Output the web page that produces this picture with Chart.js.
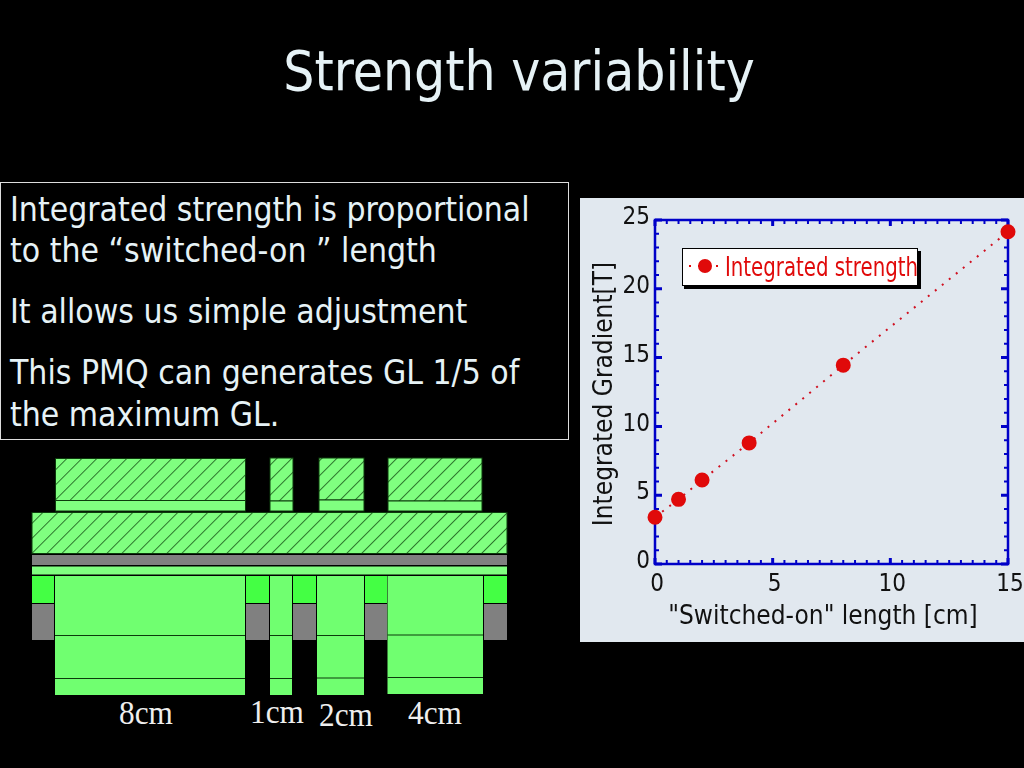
<!DOCTYPE html>
<html>
<head>
<meta charset="utf-8">
<title>Strength variability</title>
<script src="https://cdn.jsdelivr.net/npm/chart.js@4"></script>
<style>
html, body { margin: 0; padding: 0; background: #000; }
body { position: relative; width: 1024px; height: 768px; overflow: hidden; font-family: "DejaVu Sans Condensed", "DejaVu Sans", sans-serif; font-stretch: condensed; }
#title { position: absolute; left: 0; width: 1038px; top: 34px; text-align: center; font-size: 54.6px; line-height: 74px; color: #e6f2f6; }
#box { position: absolute; left: 0; top: 182px; width: 567px; height: 256px; border: 1px solid #ddd; }
.line { position: absolute; left: 9px; font-size: 33.4px; line-height: 42px; color: #e6f2f6; white-space: nowrap; }
#panel { position: absolute; left: 580px; top: 198px; width: 444px; height: 444px; background: #e1e8ef; }
#diagram { position: absolute; left: 0; top: 450px; }
.size { position: absolute; font-family: "Liberation Serif", serif; font-size: 34px; color: #eee; line-height: 34px; transform: scaleX(0.92); transform-origin: left; }
</style>
</head>
<body>
<div id="title">Strength variability</div>
<div id="box">
  <div class="line" style="top:6px">Integrated strength is proportional</div>
  <div class="line" style="top:47px">to the “switched-on ” length</div>
  <div class="line" style="top:108px">It allows us simple adjustment</div>
  <div class="line" style="top:169px">This PMQ can generates GL 1/5 of</div>
  <div class="line" style="top:211px">the maximum GL.</div>
</div>

<svg id="diagram" width="520" height="250" viewBox="0 450 520 250">
  <defs>
    <pattern id="hatch" width="10.6" height="10.6" patternUnits="userSpaceOnUse" patternTransform="rotate(-45)">
      <rect width="10.6" height="10.6" fill="#80ff80"/>
      <line x1="0" y1="0" x2="10.6" y2="0" stroke="#0a400a" stroke-width="1.4"/>
    </pattern>
  </defs>
  <g stroke="#0c3a0c" stroke-width="1">
    <rect x="55.5" y="458.5" width="190" height="42" fill="url(#hatch)"/>
    <rect x="270" y="458" width="23" height="43" fill="url(#hatch)"/>
    <rect x="319" y="458" width="45" height="42" fill="url(#hatch)"/>
    <rect x="388" y="458" width="94" height="43" fill="url(#hatch)"/>
    <rect x="55.5" y="500.5" width="190" height="10.5" fill="#80ff80"/>
    <rect x="270" y="501" width="23" height="10" fill="#80ff80"/>
    <rect x="319" y="500" width="45" height="11" fill="#80ff80"/>
    <rect x="388" y="501" width="94" height="10" fill="#80ff80"/>
    <rect x="32" y="512.5" width="475" height="41" fill="url(#hatch)"/>
  </g>
  <rect x="32" y="555" width="475" height="10" fill="#808080"/>
  <rect x="32" y="566.5" width="475" height="8" fill="#80ff80"/>
  <g fill="#808080">
    <rect x="32" y="604" width="22" height="36"/>
    <rect x="246" y="604" width="23" height="36"/>
    <rect x="293" y="604" width="23" height="36"/>
    <rect x="365" y="604" width="22" height="36"/>
    <rect x="484" y="604" width="23" height="36"/>
  </g>
  <g fill="#44ff44">
    <rect x="32" y="576" width="22" height="27"/>
    <rect x="246" y="576" width="23" height="27"/>
    <rect x="293" y="576" width="23" height="27"/>
    <rect x="365" y="576" width="22" height="27"/>
    <rect x="484" y="576" width="23" height="27"/>
  </g>
  <g fill="#70ff70">
    <rect x="55" y="576" width="190" height="119"/>
    <rect x="270" y="576" width="22" height="119"/>
    <rect x="317" y="576" width="47" height="119"/>
    <rect x="387.5" y="576" width="95.5" height="118"/>
  </g>
  <g stroke="#0c3a0c" stroke-width="1">
    <line x1="55" y1="635.5" x2="245" y2="635.5"/>
    <line x1="270" y1="635.5" x2="292" y2="635.5"/>
    <line x1="317" y1="635.5" x2="364" y2="635.5"/>
    <line x1="387.5" y1="635" x2="483" y2="635"/>
    <line x1="55" y1="678.5" x2="245" y2="678.5"/>
    <line x1="270" y1="678.5" x2="292" y2="678.5"/>
    <line x1="317" y1="678" x2="364" y2="678"/>
    <line x1="387.5" y1="677.5" x2="483" y2="677.5"/>
  </g>
</svg>
<div class="size" style="left:119px;top:696px">8cm</div>
<div class="size" style="left:250px;top:695px">1cm</div>
<div class="size" style="left:319px;top:698px">2cm</div>
<div class="size" style="left:408px;top:696px">4cm</div>

<div id="panel"><canvas id="strengthChart" width="444" height="444"></canvas></div>

<script>
// values
const lengths = [0, 1, 2, 4, 8, 15];
const gradients = [3.4, 4.7, 6.1, 8.8, 14.45, 24.15];
const xLabels = [0, 5, 10, 15];
const yLabels = [0, 5, 10, 15, 20, 25];
const xMinorStep = 0.5;
const yMinorStep = 1;
const seriesName = 'Integrated strength';
const xTitle = '"Switched-on" length [cm]';
const yTitle = 'Integrated Gradient[T]';

const fontName = '"DejaVu Sans Condensed", "DejaVu Sans", sans-serif';
const red = '#e00a0a';
const blue = '#0000c8';

// frame with inward ticks on all four sides, plus the axis titles
const framePlugin = {
    id: 'frame',
    beforeDatasetsDraw(chart) {
        const { ctx, chartArea: a, scales: { x, y } } = chart;
        ctx.save();
        ctx.strokeStyle = blue;
        ctx.lineWidth = 2.5;
        ctx.strokeRect(a.left, a.top, a.right - a.left, a.bottom - a.top);

        for (let v = 0; v <= 15; v += xMinorStep) {
            const major = xLabels.includes(v);
            const px = x.getPixelForValue(v);
            const len = major ? 6 : 4;
            ctx.lineWidth = major ? 3 : 2;
            ctx.beginPath();
            ctx.moveTo(px, a.bottom); ctx.lineTo(px, a.bottom - len);
            ctx.moveTo(px, a.top); ctx.lineTo(px, a.top + len);
            ctx.stroke();
        }
        for (let v = 0; v <= 25; v += yMinorStep) {
            const major = yLabels.includes(v);
            const py = y.getPixelForValue(v);
            const len = major ? 7 : 4;
            ctx.lineWidth = major ? 3 : 2;
            ctx.beginPath();
            ctx.moveTo(a.left, py); ctx.lineTo(a.left + len, py);
            ctx.moveTo(a.right, py); ctx.lineTo(a.right - len, py);
            ctx.stroke();
        }

        ctx.fillStyle = '#111';
        ctx.font = '26px ' + fontName;
        ctx.textAlign = 'center';
        ctx.textBaseline = 'middle';
        ctx.fillText(xTitle, 243, 419);
        ctx.translate(25, 196);
        ctx.rotate(-Math.PI / 2);
        ctx.fillText(yTitle, 0, 0);
        ctx.restore();
    },
    afterDatasetsDraw(chart) {
        // legend box with a hard black shadow
        const { ctx } = chart;
        ctx.save();
        ctx.fillStyle = '#000';
        ctx.fillRect(104, 53, 237, 38);
        ctx.fillStyle = '#fff';
        ctx.fillRect(102, 50, 236, 38);
        ctx.strokeStyle = '#000';
        ctx.lineWidth = 1;
        ctx.strokeRect(102.5, 50.5, 235, 37);
        ctx.strokeStyle = red;
        ctx.lineWidth = 2;
        ctx.setLineDash([2, 7]);
        ctx.beginPath();
        ctx.moveTo(109, 68); ctx.lineTo(142, 68);
        ctx.stroke();
        ctx.fillStyle = red;
        ctx.beginPath();
        ctx.arc(125, 68, 7, 0, Math.PI * 2);
        ctx.fill();
        ctx.font = '26px ' + fontName;
        ctx.textAlign = 'left';
        ctx.textBaseline = 'middle';
        ctx.fillText(seriesName, 145, 71, 193);
        ctx.restore();
    }
};

const strengthCtx = document.getElementById('strengthChart').getContext('2d');
const strengthChart = new Chart(strengthCtx, {
    type: 'scatter',
    data: {
        datasets: [{
            label: seriesName,
            data: lengths.map((v, i) => ({ x: v, y: gradients[i] })),
            showLine: true,
            borderColor: '#d01020',
            borderWidth: 2,
            borderDash: [2, 7],
            backgroundColor: red,
            pointBackgroundColor: red,
            pointBorderColor: red,
            pointRadius: 6.5,
            clip: false
        }]
    },
    options: {
        responsive: false,
        animation: false,
        layout: { padding: { top: 22, right: 16 } },
        plugins: { legend: { display: false }, tooltip: { enabled: false } },
        scales: {
            x: {
                type: 'linear',
                min: 0,
                max: 15,
                afterFit(scale) { scale.height = 78; scale.paddingRight = 0; scale.paddingLeft = 0; },
                afterBuildTicks(scale) { scale.ticks = xLabels.map(v => ({ value: v })); },
                grid: { display: false },
                border: { display: false },
                ticks: {
                    color: '#111',
                    font: { family: fontName, size: 24 },
                    maxRotation: 0,
                    labelOffset: 2,
                    padding: -2
                }
            },
            y: {
                type: 'linear',
                min: 0,
                max: 25,
                afterFit(scale) { scale.width = 75; scale.paddingTop = 0; scale.paddingBottom = 0; },
                afterBuildTicks(scale) { scale.ticks = yLabels.map(v => ({ value: v })); },
                grid: { display: false },
                border: { display: false },
                ticks: {
                    color: '#111',
                    font: { family: fontName, size: 24 },
                    labelOffset: -2,
                    padding: -3
                }
            }
        }
    },
    plugins: [framePlugin]
});
</script>
</body>
</html>
